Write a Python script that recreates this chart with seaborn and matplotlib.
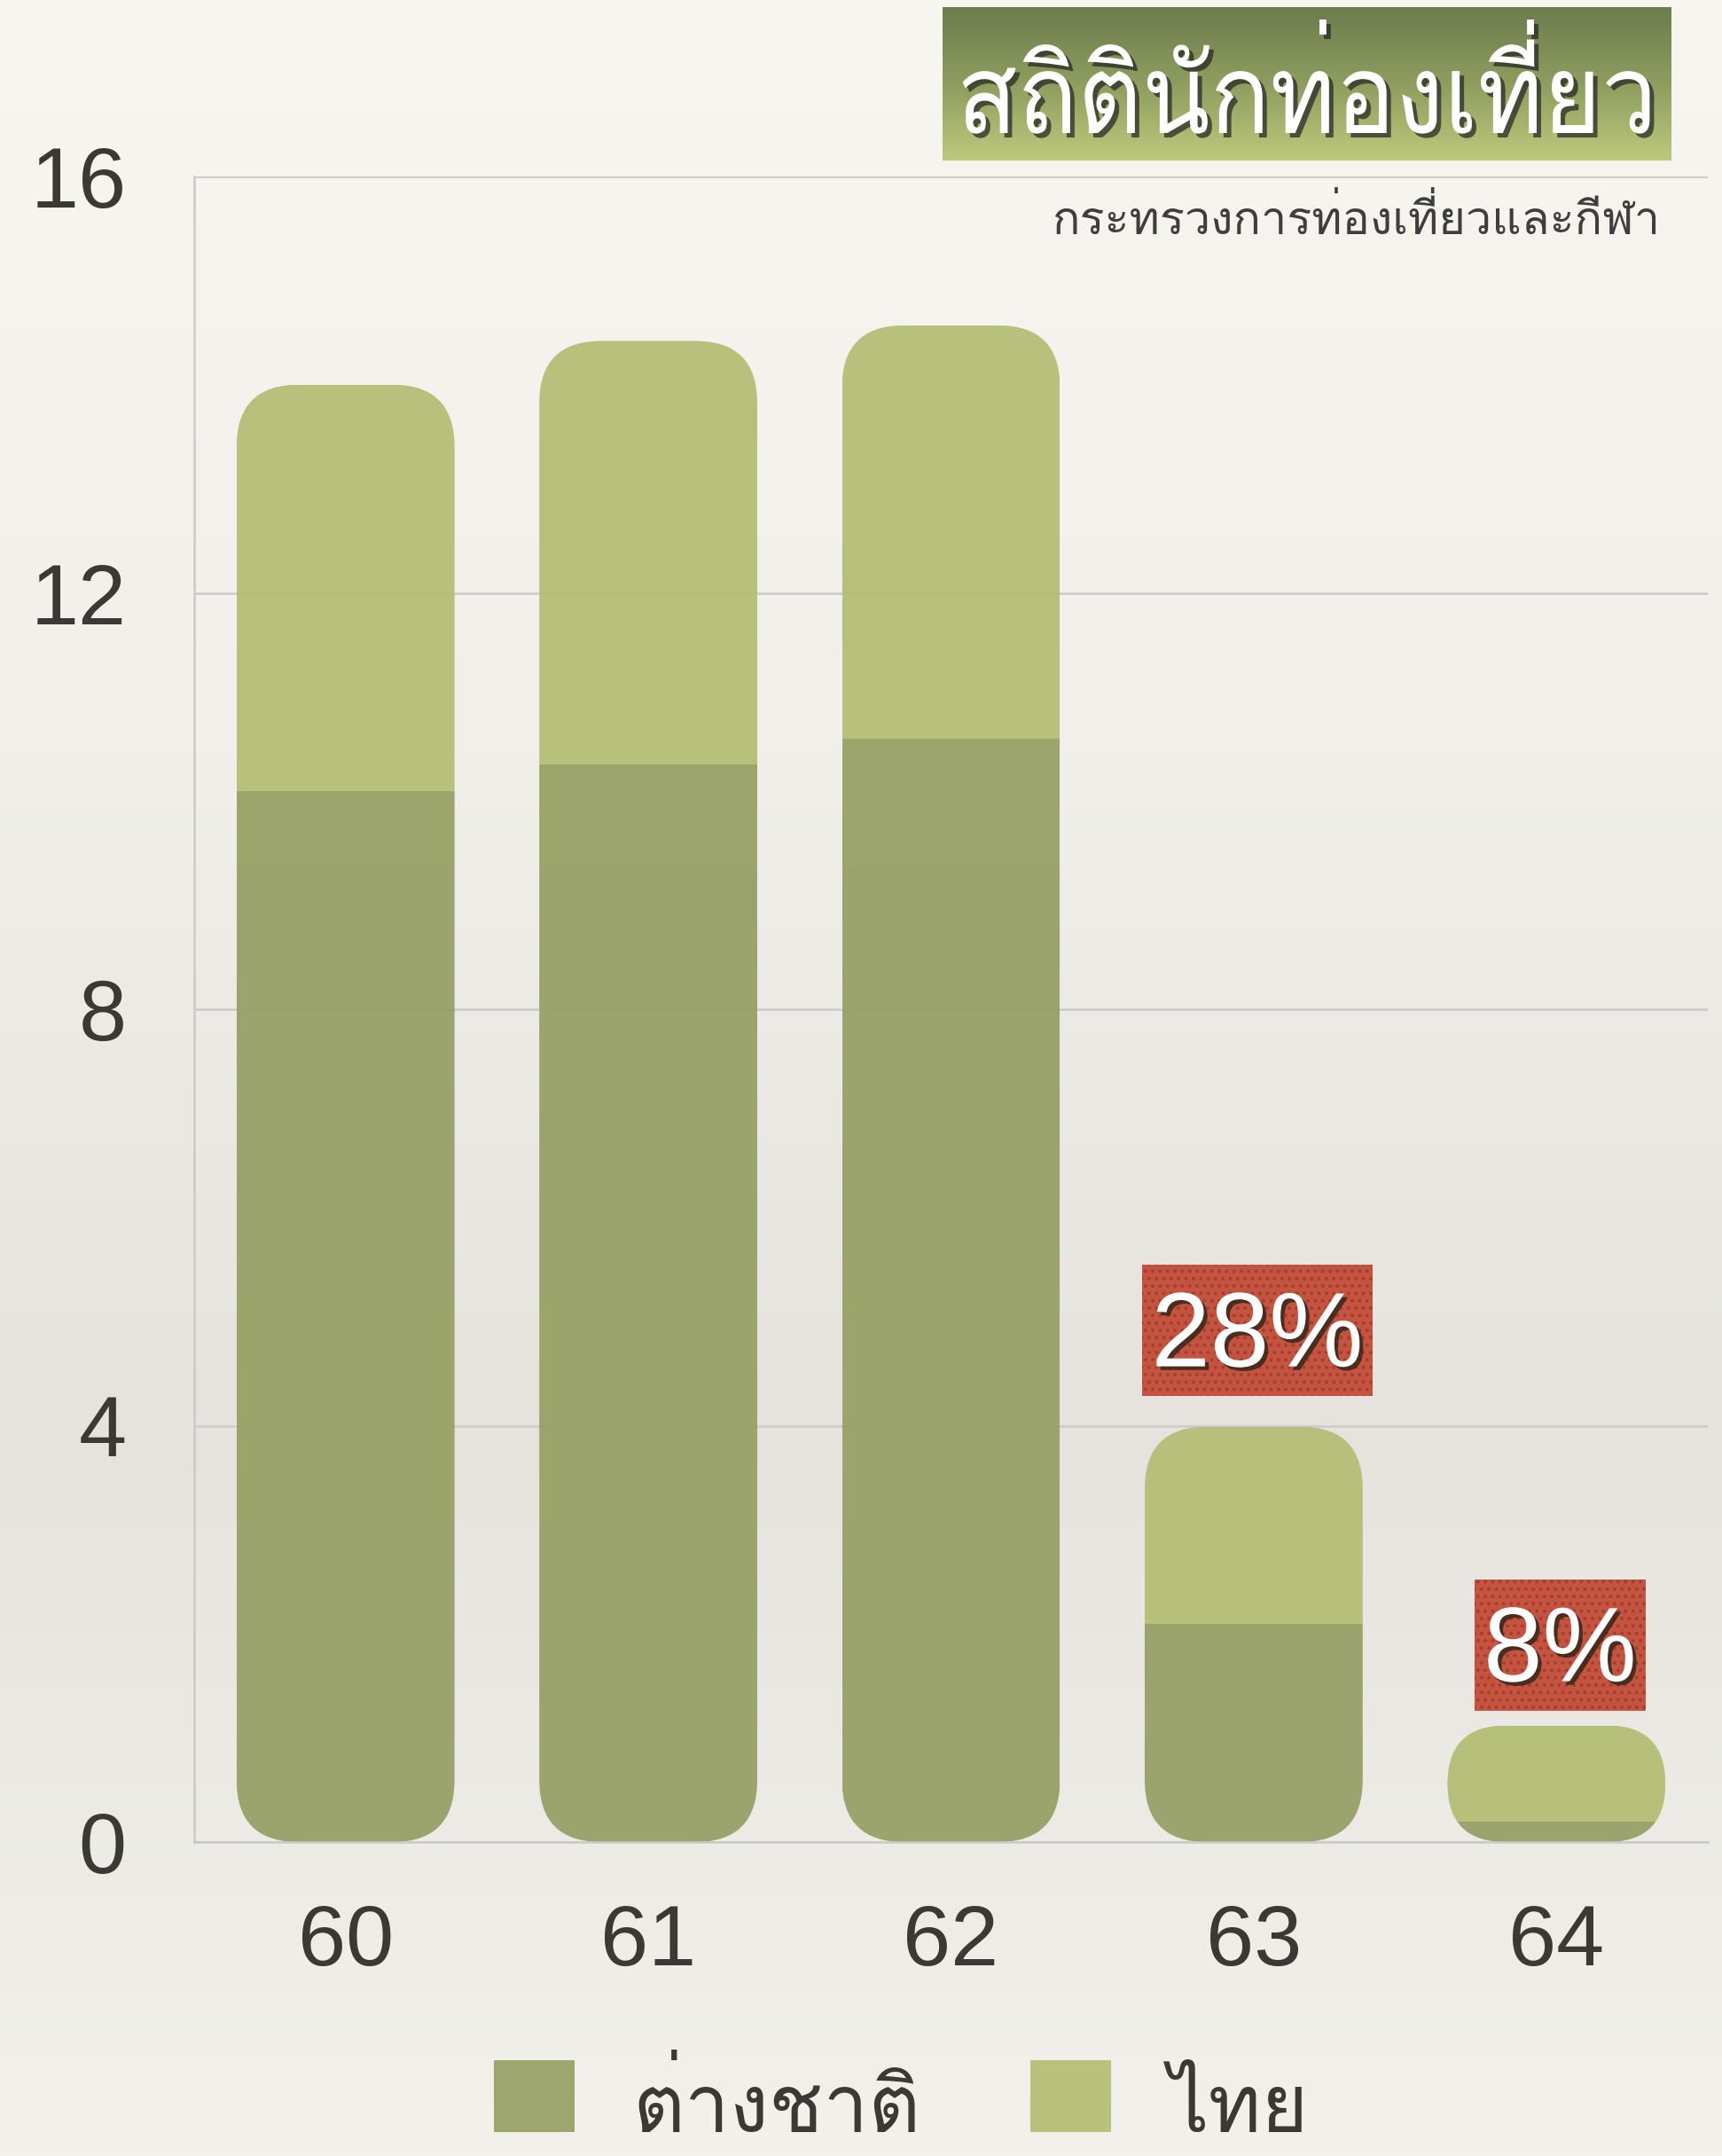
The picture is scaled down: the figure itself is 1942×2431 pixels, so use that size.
import numpy as np
import pandas as pd
import matplotlib
matplotlib.use("Agg")
import matplotlib.pyplot as plt
import seaborn as sns
from matplotlib.patches import FancyBboxPatch, Patch
from matplotlib.path import Path
from matplotlib.transforms import Affine2D
import matplotlib.patheffects as pe
from matplotlib.colors import LinearSegmentedColormap, to_rgba

# ---------------- data ----------------
years = ["60", "61", "62", "63", "64"]
foreign = [10.1, 10.35, 10.6, 2.1, 0.2]
thai = [3.9, 4.07, 3.97, 1.89, 0.92]
pct_labels = [None, None, None, "28%", "8%"]
yticks = [0, 4, 8, 12, 16]
title = "สถิตินักท่องเที่ยว"
subtitle = "กระทรวงการท่องเที่ยวและกีฬา"
legend_labels = ["ต่างชาติ", "ไทย"]

# ---------------- style ----------------
sns.set_theme(style="white")
THAI = ["Loma", "DejaVu Sans"]
NUM = ["Liberation Sans", "DejaVu Sans"]
plt.rcParams["font.family"] = NUM
plt.rcParams["hatch.linewidth"] = 1.6

BAR_ALPHA = 0.9
DARK = "#929D5F"
LIGHT = "#B2BC70"
DARK_LEG = "#9CA66D"
LIGHT_LEG = "#B8C27C"
GRID = "#CACACA"
TXT = "#3B3935"

W, H = 1942, 2431
fig = plt.figure(figsize=(W / 100, H / 100), dpi=100)

# background gradient
bg = fig.add_axes([0, 0, 1, 1], zorder=-10)
cmap = LinearSegmentedColormap.from_list(
    "bg", [(0, "#F8F6F0"), (0.35, "#F1EFE9"), (0.66, "#E6E3DE"), (1, "#F3F1EC")])
bg.imshow(np.linspace(0, 1, 256)[:, None], aspect="auto", cmap=cmap,
          extent=[0, 1, 0, 1])
bg.axis("off")

# main axes
ax_l, ax_r, ax_t, ax_b = 219, 1926, 199, 2077
ax = fig.add_axes([ax_l / W, 1 - ax_b / H, (ax_r - ax_l) / W, (ax_b - ax_t) / H])
ax.patch.set_alpha(0)

df = pd.DataFrame({"year": years, "foreign": foreign, "thai": thai})
df["total"] = df["foreign"] + df["thai"]

bw = 0.72
sns.barplot(data=df, x="year", y="foreign", color=DARK, saturation=1,
            width=bw, ax=ax, zorder=3, alpha=BAR_ALPHA)
sns.barplot(data=df, x="year", y="thai", color=LIGHT, saturation=1,
            width=bw, ax=ax, zorder=3, alpha=BAR_ALPHA,
            bottom=df["foreign"].to_numpy())

ax.set_xlim(-0.5, len(years) - 0.5)
ax.set_ylim(0, 16)

# rounded clip shapes (rounded in pixels, axes are not equal-aspect)
px_per_x = (ax_r - ax_l) / len(years)
px_per_y = (ax_b - ax_t) / 16
aspect = px_per_x / px_per_y
r_px = 70
n = len(years)
for i, tot in enumerate(df["total"]):
    h_px = tot * px_per_y
    r = min(r_px, h_px / 2, bw * px_per_x / 2) / px_per_x
    clip = FancyBboxPatch((i - bw / 2, 0), bw, tot,
                          boxstyle=f"round,pad=0,rounding_size={r}",
                          mutation_aspect=aspect, transform=ax.transData,
                          facecolor="none", edgecolor="none")
    for p in (ax.patches[i], ax.patches[n + i]):
        p.set_clip_path(clip)
        p.set_edgecolor("none")

# grid & spines
ax.set_yticks(yticks)
ax.yaxis.grid(True, color=GRID, lw=1.8)
ax.xaxis.grid(False)
ax.set_axisbelow(True)
for s in ("top", "right"):
    ax.spines[s].set_visible(False)
for s in ("left", "bottom"):
    ax.spines[s].set_color(GRID)
    ax.spines[s].set_linewidth(1.8)
    ax.spines[s].set_zorder(5)
ax.set_xlabel("")
ax.set_ylabel("")
ax.tick_params(axis="y", length=0, pad=55, labelsize=70, labelcolor=TXT)
ax.tick_params(axis="x", length=0, pad=50, labelsize=70, labelcolor=TXT)


# percentage labels in red boxes
def pct_box(x0, y0, width, height, mutation_size):
    l = r = 0.088 * mutation_size
    t = 0.243 * mutation_size
    b = 0.07 * mutation_size
    verts = [(x0 - l, y0 - b), (x0 + width + r, y0 - b),
             (x0 + width + r, y0 + height + t), (x0 - l, y0 + height + t),
             (x0 - l, y0 - b)]
    return Path(verts, closed=True)


label_offsets = [0, 0, 0, 49, 36]
for i, lab in enumerate(pct_labels):
    if lab is None:
        continue
    ax.annotate(lab, xy=(i, df["total"][i]), xytext=(3, label_offsets[i]),
                textcoords="offset points", ha="center", va="baseline",
                fontsize=86, color="white", zorder=6,
                bbox=dict(boxstyle=pct_box, facecolor="#C4543F",
                          edgecolor="#A23F2E", hatch="..", linewidth=0),
                path_effects=[pe.withSimplePatchShadow(offset=(3, -3),
                              shadow_rgbFace="#2e2418", alpha=0.8)])


# title box
class CondensedShadow(pe.AbstractPathEffect):
    """Draw text narrowed horizontally around cx, with a drop shadow."""

    def __init__(self, sx, cx, shadow_px=(5, -5), shadow="#222222", alpha=0.7):
        super().__init__()
        self.sx, self.cx = sx, cx
        self.shadow_px = shadow_px
        self.shadow = to_rgba(shadow)
        self.alpha = alpha

    def draw_path(self, renderer, gc, tpath, affine, rgbFace=None):
        base = affine + Affine2D().translate(-self.cx, 0).scale(self.sx, 1) \
            .translate(self.cx, 0)
        gc0 = renderer.new_gc()
        gc0.copy_properties(gc)
        gc0.set_foreground(self.shadow)
        gc0.set_alpha(self.alpha)
        gc0.set_linewidth(0)
        renderer.draw_path(gc0, tpath, base + Affine2D().translate(*self.shadow_px),
                           self.shadow)
        gc0.restore()
        renderer.draw_path(gc, tpath, base, rgbFace)


tb_l, tb_r, tb_t, tb_b = 1063, 1885, 8, 181
tax = fig.add_axes([tb_l / W, 1 - tb_b / H, (tb_r - tb_l) / W, (tb_b - tb_t) / H])
tcmap = LinearSegmentedColormap.from_list("t", ["#6C7C4D", "#8E9D5E", "#BDC97C"])
tax.imshow(np.linspace(0, 1, 256)[:, None], aspect="auto", cmap=tcmap,
           extent=[0, 1, 0, 1])
tax.axis("off")
SX = 0.9
tt = tax.text(0.5, (tb_b - 150) / (tb_b - tb_t), title, transform=tax.transAxes,
              ha="center", va="baseline", color="white", fontsize=100,
              family=THAI)

st = fig.text(1872 / W, 1 - 264 / H, subtitle, ha="right", va="baseline",
              color="#3E3E3E", fontsize=40, family=THAI)

# fit text widths
fig.canvas.draw()
rend = fig.canvas.get_renderer()
for t, target in ((tt, 790 / SX), (st, 685)):
    w = t.get_window_extent(rend).width
    t.set_fontsize(t.get_fontsize() * target / w)
cx = tax.transAxes.transform((0.5, 0))[0]
tt.set_path_effects([CondensedShadow(SX, cx)])

# legend font size from target label width
tmp = fig.text(0, 0, legend_labels[0], fontsize=60, family=THAI)
wl = tmp.get_window_extent(rend).width
tmp.remove()
leg_size = 60 * 325 / wl
F = leg_size / 0.72  # font size in px

handles = [Patch(facecolor=DARK_LEG, edgecolor="none"),
           Patch(facecolor=LIGHT_LEG, edgecolor="none")]
anchor = [1015, 2360]
leg = fig.legend(handles, legend_labels, loc="center", ncol=2,
                 bbox_to_anchor=(anchor[0] / W, 1 - anchor[1] / H), frameon=False,
                 prop=dict(family=THAI, size=leg_size), labelcolor=TXT,
                 handlelength=91 / F, handleheight=91 / F,
                 handletextpad=65 / F, columnspacing=124 / F,
                 borderpad=0, borderaxespad=0)

# align legend: first square at x 557..649, bottom at y 2404 (pixels from top)
SQ_BOTTOM = 2404
for _ in range(2):
    fig.canvas.draw()
    hb = leg.legend_handles[0].get_window_extent(rend)
    dx = 557 - hb.x0
    dy = (H - SQ_BOTTOM) - hb.y0
    anchor = [anchor[0] + dx, anchor[1] - dy]
    leg.set_bbox_to_anchor((anchor[0] / W, 1 - anchor[1] / H))

fig.canvas.draw()
for h, t in zip(leg.legend_handles, leg.get_texts()):
    hb = h.get_window_extent(rend)
    base_y = t.get_transform().transform(t.get_position())[1]
    shift = hb.y0 - base_y
    t.set_transform(t.get_transform() + Affine2D().translate(0, shift))

fig.savefig("out.png", dpi=100)
